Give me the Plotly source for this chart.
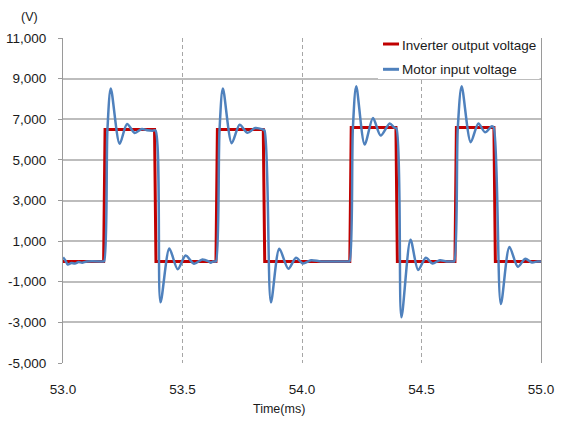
import plotly.graph_objects as go

# ---- data ----
inv_t = [53.0, 53.170, 53.176, 53.383, 53.389, 53.640, 53.646, 53.838, 53.844,
         54.200, 54.206, 54.393, 54.399, 54.640, 54.646, 54.803, 54.809, 55.0]
inv_v = [0, 0, 6500, 6500, 0, 0, 6500, 6500, 0,
         0, 6600, 6600, 0, 0, 6600, 6600, 0, 0]

mot_t = [53.000, 53.010, 53.020, 53.035, 53.050, 53.065, 53.080, 53.100, 53.166, 53.172,
         53.186, 53.200, 53.237, 53.268, 53.300, 53.330, 53.352, 53.375, 53.387,
         53.408, 53.445, 53.480, 53.513, 53.548, 53.583, 53.610, 53.618, 53.628, 53.634, 53.640,
         53.655, 53.669, 53.706, 53.739, 53.772, 53.804, 53.835, 53.843,
         53.870, 53.905, 53.943, 53.975, 54.003, 54.038, 54.080, 54.193, 54.199,
         54.213, 54.227, 54.262, 54.297, 54.329, 54.367, 54.385, 54.395,
         54.416, 54.454, 54.486, 54.518, 54.546, 54.577, 54.605, 54.631, 54.637,
         54.652, 54.668, 54.706, 54.738, 54.766, 54.794, 54.802,
         54.832, 54.868, 54.903, 54.934, 54.962, 54.985, 55.000]
mot_v = [200, 50, -150, -80, -100, -30, -60, 0, 0, 0,
         6500, 8520, 5790, 6765, 6327, 6520, 6460, 6440, 6450,
         -2015, 634, -390, 290, -115, 100, 0, -60, 0, 0, 0,
         6500, 8520, 5820, 6730, 6330, 6570, 6500, 6450,
         -2015, 620, -360, 180, -100, 60, 0, 0, 0,
         6600, 8630, 5755, 7060, 6195, 6795, 6600, 6550,
         -2750, 1070, -420, 180, -100, 60, 0, 0, 0,
         6600, 8630, 5870, 6795, 6355, 6650, 6600,
         -2100, 715, -260, 130, -50, 0, 0]

y_ticks = [-5000, -3000, -1000, 1000, 3000, 5000, 7000, 9000, 11000]
y_labels = ["-5,000", "-3,000", "-1,000", "1,000", "3,000", "5,000", "7,000", "9,000", "11,000"]
x_ticks = [53.0, 53.5, 54.0, 54.5, 55.0]
x_labels = ["53.0", "53.5", "54.0", "54.5", "55.0"]

series_names = ["Inverter output voltage", "Motor input voltage"]
RED = "#C00000"
BLUE = "#4F81BD"
FONT = "Liberation Sans, Arial, sans-serif"
TXT = "#1a1a1a"

fig = go.Figure()
fig.add_trace(go.Scatter(x=inv_t, y=inv_v, mode="lines", name=series_names[0],
                         line=dict(color=RED, width=3), showlegend=False))
fig.add_trace(go.Scatter(x=mot_t, y=mot_v, mode="lines", name=series_names[1],
                         line=dict(color=BLUE, width=2.5, shape="spline", smoothing=0.8),
                         showlegend=False))

fig.update_layout(
    width=566, height=423,
    margin=dict(l=63, r=25, t=38, b=60),
    paper_bgcolor="white", plot_bgcolor="white",
    font=dict(family=FONT, size=13.5, color=TXT),
    xaxis=dict(range=[53, 55], tickvals=x_ticks, ticktext=x_labels, automargin=False,
               showgrid=True, gridcolor="#A6A6A6", griddash="4px,3px", gridwidth=1,
               zeroline=False, showline=False, ticks="", ticklabelstandoff=16,
               tickfont=dict(size=13.5)),
    yaxis=dict(range=[-5000, 11000], tickvals=y_ticks, ticktext=y_labels, automargin=False,
               showgrid=True, gridcolor="#BDBDBD", gridwidth=1.5,
               zeroline=False, showline=True, linecolor="#9A9A9A", linewidth=1.2,
               mirror=True, ticks="outside", ticklen=4, tickcolor="#9A9A9A", tickwidth=1.2,
               ticklabelstandoff=9, tickfont=dict(size=13.5)),
)

# manual legend
fig.add_shape(type="rect", xref="paper", yref="paper", x0=0.659, x1=0.997, y0=0.874, y1=0.996,
              fillcolor="white", line=dict(width=0), layer="above")
fig.add_shape(type="line", xref="paper", yref="paper", x0=0.6695, x1=0.703, y0=0.9815, y1=0.9815,
              line=dict(color=RED, width=3), layer="above")
fig.add_shape(type="line", xref="paper", yref="paper", x0=0.6695, x1=0.703, y0=0.9037, y1=0.9037,
              line=dict(color=BLUE, width=3), layer="above")
fig.add_annotation(text=series_names[0], xref="paper", yref="paper", x=0.706, y=0.9754,
                   xanchor="left", yanchor="middle", showarrow=False, font=dict(size=13.5))
fig.add_annotation(text=series_names[1], xref="paper", yref="paper", x=0.706, y=0.903,
                   xanchor="left", yanchor="middle", showarrow=False, font=dict(size=13.5))

# axis titles
fig.add_annotation(text="(V)", xref="paper", yref="paper", x=-0.070, y=1.0646,
                   xanchor="center", yanchor="middle", showarrow=False, font=dict(size=12.5))
fig.add_annotation(text="Time(ms)", xref="paper", yref="paper", x=0.452, y=-0.143,
                   xanchor="center", yanchor="middle", showarrow=False, font=dict(size=12.5))

fig.write_html("out.html")
